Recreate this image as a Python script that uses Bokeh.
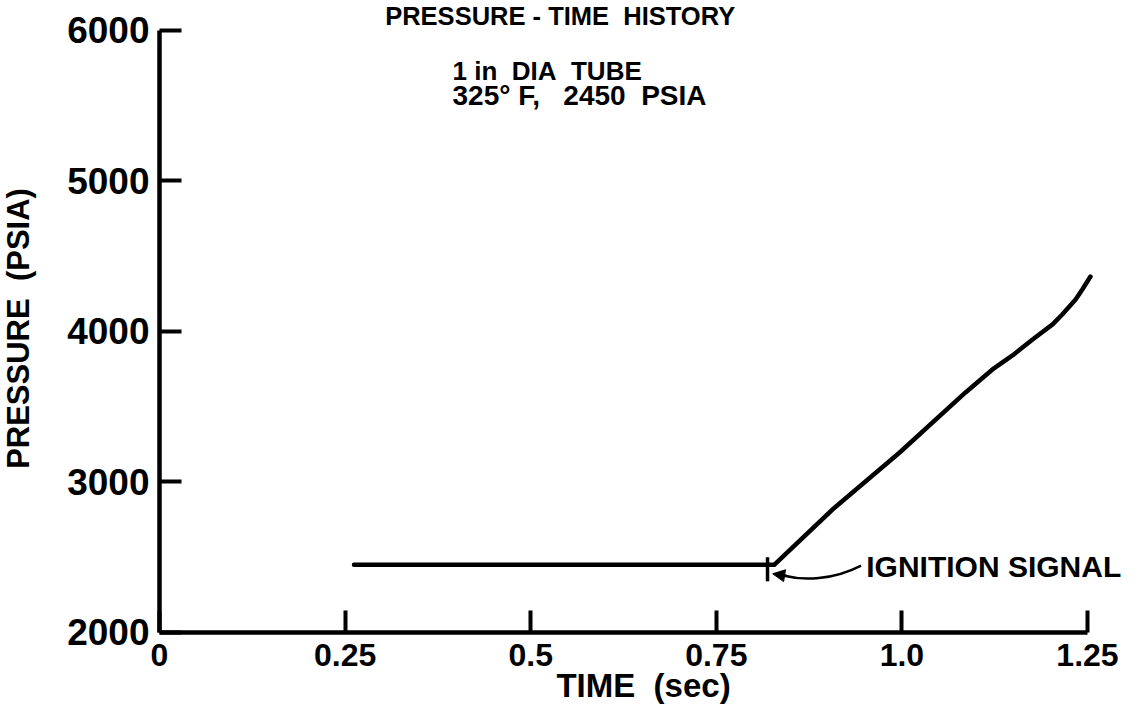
import math
from bokeh.plotting import figure
from bokeh.models import FixedTicker, Label, Arrow, NormalHead, Range1d
from bokeh.embed import file_html
from bokeh.resources import INLINE

# ---- data ----
time_s = [0.262, 0.828, 0.9065, 0.997, 1.0857, 1.122, 1.149, 1.176, 1.203, 1.216, 1.234, 1.243, 1.254]
pressure_psia = [2450, 2450, 2817, 3196, 3595, 3748, 3841, 3947, 4047, 4113, 4213, 4279, 4365]
ignition_time = 0.819
ignition_mark = [2500, 2340]

x_ticks = [0, 0.25, 0.5, 0.75, 1.0, 1.25]
x_tick_labels = ["0", "0.25", "0.5", "0.75", "1.0", "1.25"]
y_ticks = [2000, 3000, 4000, 5000, 6000]
y_tick_labels = ["2000", "3000", "4000", "5000", "6000"]

NB = "\u00a0"
title_lines = ["PRESSURE - TIME" + NB * 2 + "HISTORY",
               "1 in" + NB * 2 + "DIA" + NB * 2 + "TUBE",
               "325\u00b0" + NB + "F," + NB * 3 + "2450" + NB * 2 + "PSIA"]
x_label = "TIME" + NB * 2 + "(sec)"
y_label = "PRESSURE" + NB * 2 + "(PSIA)"
note_text = "IGNITION SIGNAL"

FONT = "Liberation Sans"

# frame covers the whole canvas; axes are pinned at x=0 / y=2000
p = figure(width=1131, height=708, output_backend="svg", toolbar_location=None,
           x_range=Range1d(-0.21417, 1.30927), y_range=Range1d(1495.0, 6199.3),
           min_border=0, min_border_left=0, min_border_right=0, min_border_top=0,
           min_border_bottom=0)
p.outline_line_color = None
p.xgrid.visible = False
p.ygrid.visible = False
p.background_fill_color = "white"
p.border_fill_color = "white"

for ax in (p.xaxis[0], p.yaxis[0]):
    ax.axis_line_width = 4.5
    ax.axis_line_color = "black"
    ax.major_tick_line_width = 4
    ax.major_tick_line_color = "black"
    ax.major_tick_in = 22
    ax.major_tick_out = 0
    ax.minor_tick_line_color = None
    ax.major_label_text_font = FONT
    ax.major_label_text_font_style = "bold"
    ax.major_label_text_color = "black"

p.xaxis.fixed_location = 2000
p.yaxis.fixed_location = 0
p.xaxis.bounds = (0, 1.25)
p.yaxis.bounds = (2000, 6000)
p.xaxis.ticker = FixedTicker(ticks=x_ticks)
p.yaxis.ticker = FixedTicker(ticks=y_ticks)
p.xaxis.major_label_overrides = dict(zip(x_ticks, x_tick_labels))
p.yaxis.major_label_overrides = dict(zip(y_ticks, y_tick_labels))
p.xaxis.major_label_text_font_size = "32px"
p.xaxis.major_label_standoff = 12
p.yaxis.major_label_text_font_size = "37px"
p.yaxis.major_label_standoff = 10

# axis titles
p.add_layout(Label(x=0.652, y=1645, text=x_label, text_font=FONT, text_font_style="bold",
                   text_font_size="33px", text_align="center", text_baseline="middle",
                   text_color="black"))
p.add_layout(Label(x=-0.190, y=4020, text=y_label, text_font=FONT, text_font_style="bold",
                   text_font_size="31px", text_align="center", text_baseline="middle",
                   angle=math.pi / 2, text_color="black"))

# pressure trace
p.line(time_s, pressure_psia, line_width=4.5, line_color="black",
       line_join="round", line_cap="round")

# ignition signal marker and arrow
p.segment(x0=[ignition_time], y0=[ignition_mark[0]], x1=[ignition_time], y1=[ignition_mark[1]],
          line_width=3.5, line_color="black")
p.bezier(x0=[0.945], y0=[2445], x1=[0.842], y1=[2377], cx0=[0.9065], cy0=[2346],
         cx1=[0.866], cy1=[2346], line_width=2.5, line_color="black")
p.add_layout(Arrow(end=NormalHead(size=12, fill_color="black", line_color="black"),
                   x_start=0.845, y_start=2375, x_end=0.826, y_end=2390,
                   line_width=2.5, line_color="black"))
p.add_layout(Label(x=0.952, y=2439, text=note_text, text_font=FONT,
                   text_font_style="bold", text_font_size="30px", text_baseline="middle",
                   text_align="left", text_color="black"))

# title block
title_x = [0.304, 0.3947, 0.3947]
title_y = [6093, 5734, 5568]
title_size = ["25.5px", "26px", "28px"]
for tx, ty, tt, ts in zip(title_x, title_y, title_lines, title_size):
    p.add_layout(Label(x=tx, y=ty, text=tt, text_font=FONT, text_font_style="bold",
                       text_font_size=ts, text_baseline="middle", text_align="left",
                       text_color="black"))

open("out.html", "w").write(file_html(p, INLINE))
